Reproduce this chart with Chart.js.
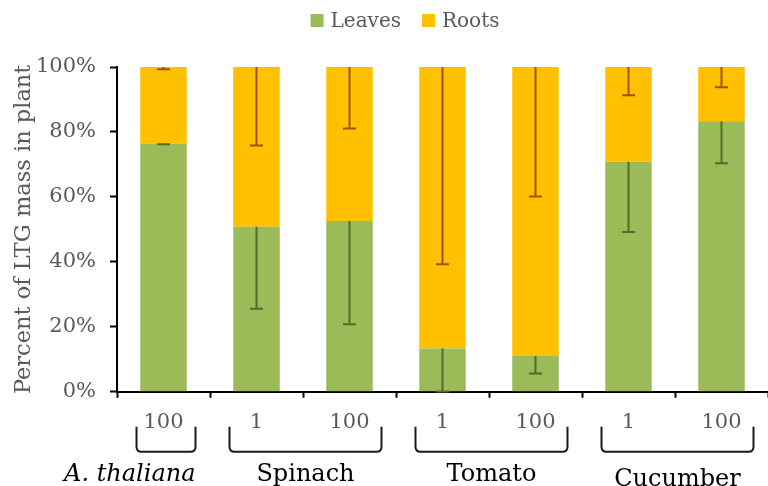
<!DOCTYPE html>
<html>
<head>
<meta charset="utf-8">
<script src="https://cdn.jsdelivr.net/npm/chart.js@4/dist/chart.umd.min.js"></script>
<style>
  html, body { margin: 0; padding: 0; background: #fff; }
  canvas { display: block; }
</style>
</head>
<body>
<canvas id="c" width="768" height="486"></canvas>
<script>
// Concentration labels under each bar
const doseLabels = ["100", "1", "100", "1", "100", "1", "100"];

// Share of LTG mass (%) found in leaves; roots make up the rest
const leaves = [76.4, 50.8, 52.6, 13.3, 11.0, 70.8, 83.3];
const roots = [23.6, 49.2, 47.4, 86.7, 89.0, 29.2, 16.7];

// Error bar lengths (drawn downward from the top of each segment)
const leavesErr = [0.2, 25.2, 31.8, 13.2, 5.4, 21.6, 12.9];
const rootsErr = [0.7, 24.2, 18.9, 60.7, 39.9, 8.7, 6.2];

// Plant species grouping the bars
const groupNames = ["A. thaliana", "Spinach", "Tomato", "Cucumber"];
const groupFirst = [0, 1, 3, 5];
const groupLast = [0, 2, 4, 6];

const yTicks = [0, 20, 40, 60, 80, 100];

const SERIF = "'DejaVu Serif', serif";
const GREY = "#595959";

// Minus-direction error bars on top of each stacked segment
const errorBars = {
  id: "errorBars",
  afterDatasetsDraw(chart) {
    const ctx = chart.ctx;
    const y = chart.scales.y;
    const specs = [
      { idx: 0, err: leavesErr, color: "#56692c" },
      { idx: 1, err: rootsErr, color: "#a0520a" }
    ];
    ctx.save();
    specs.forEach(s => {
      const meta = chart.getDatasetMeta(s.idx);
      meta.data.forEach((bar, i) => {
        const top = s.idx === 0 ? leaves[i] : leaves[i] + roots[i];
        const yTop = y.getPixelForValue(top);
        const yLow = y.getPixelForValue(top - s.err[i]);
        ctx.strokeStyle = s.color;
        ctx.lineWidth = 2;
        ctx.beginPath();
        ctx.moveTo(bar.x, yTop);
        ctx.lineTo(bar.x, yLow);
        ctx.moveTo(bar.x - 6.5, yLow);
        ctx.lineTo(bar.x + 6.5, yLow);
        ctx.stroke();
      });
    });
    ctx.restore();
  }
};

// Brackets and species names below the dose labels
const groupAxis = {
  id: "groupAxis",
  afterDraw(chart) {
    const ctx = chart.ctx;
    const x = chart.scales.x;
    const base = chart.chartArea.bottom;
    const top = base + 35, bottom = base + 60, r = 5;
    ctx.save();
    ctx.strokeStyle = "#1a1a1a";
    ctx.lineWidth = 2;
    groupNames.forEach((name, g) => {
      const x0 = x.getPixelForValue(groupFirst[g]) - 27;
      const x1 = x.getPixelForValue(groupLast[g]) + 32;
      ctx.beginPath();
      ctx.moveTo(x0, top);
      ctx.lineTo(x0, bottom - r);
      ctx.quadraticCurveTo(x0, bottom, x0 + r, bottom);
      ctx.lineTo(x1 - r, bottom);
      ctx.quadraticCurveTo(x1, bottom, x1, bottom - r);
      ctx.lineTo(x1, top);
      ctx.stroke();

      ctx.fillStyle = "#000";
      ctx.textBaseline = "alphabetic";
      const baseline = base + (g === 3 ? 94 : 89);
      if (g === 0) {
        ctx.font = "italic 24px " + SERIF;
        ctx.textAlign = "right";
        ctx.fillText(name, x1, baseline);
      } else {
        ctx.font = "24px " + SERIF;
        ctx.textAlign = "center";
        ctx.fillText(name, (x0 + x1) / 2, baseline);
      }
    });
    ctx.restore();
  }
};

// Series key across the top, built from the datasets
const topLegend = {
  id: "topLegend",
  afterDraw(chart) {
    const ctx = chart.ctx;
    const box = 13, gap = 7, spacing = 21, cy = 20.5;
    ctx.save();
    ctx.font = "20px " + SERIF;
    ctx.textBaseline = "middle";
    ctx.textAlign = "left";
    const items = chart.data.datasets.map(ds => ({ text: ds.label, color: ds.backgroundColor, w: ctx.measureText(ds.label).width }));
    const total = items.reduce((s, it) => s + box + gap + it.w, 0) + spacing * (items.length - 1);
    let xPos = chart.width / 2 + 21 - total / 2;
    items.forEach(it => {
      ctx.fillStyle = it.color;
      ctx.fillRect(xPos, cy - box / 2, box, box);
      ctx.fillStyle = GREY;
      ctx.fillText(it.text, xPos + box + gap, cy + 1);
      xPos += box + gap + it.w + spacing;
    });
    ctx.restore();
  }
};

new Chart(document.getElementById("c"), {
  type: "bar",
  data: {
    labels: doseLabels,
    datasets: [
      { label: "Leaves", data: leaves, backgroundColor: "#9bbb59" },
      { label: "Roots", data: roots, backgroundColor: "#ffc000" }
    ]
  },
  options: {
    responsive: false,
    animation: false,
    events: [],
    layout: { padding: { top: 67, right: 0, bottom: 39, left: 0 } },
    datasets: { bar: { categoryPercentage: 1, barPercentage: 0.5 } },
    plugins: {
      tooltip: { enabled: false },
      legend: { display: false }
    },
    scales: {
      x: {
        stacked: true,
        grid: { display: true, drawOnChartArea: false, drawTicks: true, tickLength: 6, tickWidth: 2, tickColor: "#000", offset: true },
        border: { color: "#000", width: 2 },
        ticks: { color: GREY, font: { family: SERIF, size: 21 }, padding: 12, maxRotation: 0, autoSkip: false }
      },
      y: {
        stacked: true,
        min: 0, max: 100,
        afterBuildTicks(scale) { scale.ticks = yTicks.map(v => ({ value: v })); },
        afterFit(scale) { scale.width = 117; },
        grid: { display: true, drawOnChartArea: false, drawTicks: true, tickLength: 7, tickWidth: 2, tickColor: "#000" },
        border: { color: "#000", width: 2 },
        ticks: { color: GREY, font: { family: SERIF, size: 21 }, padding: 14, callback: v => v + "%" },
        title: { display: true, text: "Percent of LTG mass in plant", color: GREY, font: { family: SERIF, size: 22.5 }, padding: { top: 11, bottom: 0 } }
      }
    }
  },
  plugins: [errorBars, groupAxis, topLegend]
});
</script>
</body>
</html>
